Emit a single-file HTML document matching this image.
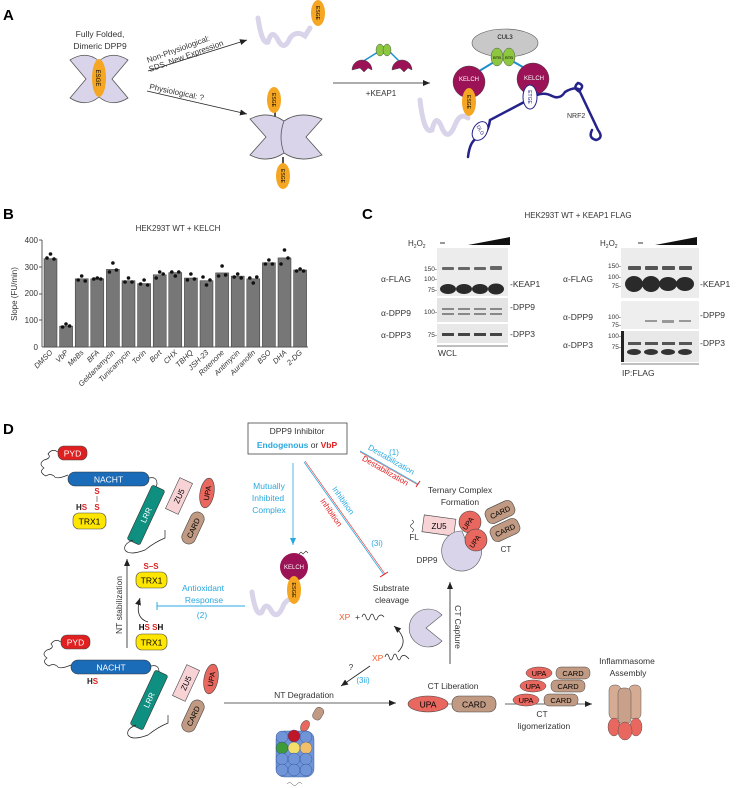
<!DOCTYPE html>
<html><head><meta charset="utf-8"><style>
html,body{margin:0;padding:0;background:#fff}
svg{display:block;font-family:"Liberation Sans",sans-serif}
</style></head><body>
<svg width="737" height="788" viewBox="0 0 737 788" xmlns="http://www.w3.org/2000/svg">
<defs>
<marker id="ar" markerWidth="8" markerHeight="8" refX="7" refY="4" orient="auto" markerUnits="userSpaceOnUse"><path d="M0,1 L7,4 L0,7 Z" fill="#222"/></marker>
<marker id="arb" markerWidth="8" markerHeight="8" refX="7" refY="4" orient="auto" markerUnits="userSpaceOnUse"><path d="M0,1 L7,4 L0,7 Z" fill="#29a8e0"/></marker>
</defs>

<!-- ===== PANEL A ===== -->
<text x="3" y="20" font-size="15" font-weight="bold">A</text>
<text x="100" y="37" font-size="8.5" text-anchor="middle" fill="#333">Fully Folded,</text>
<text x="100" y="49" font-size="8.5" text-anchor="middle" fill="#333">Dimeric DPP9</text>
<!-- X dimer -->
<g fill="#d9d4ea" stroke="#555" stroke-width="0.8">
<path d="M99,61 Q86,50 70,60 L86,79 L70,98 Q86,108 99,97 Q104,79 99,61 Z"/>
<path d="M99,61 Q112,50 128,60 L112,79 L128,98 Q112,108 99,97 Q94,79 99,61 Z"/>
</g>
<ellipse cx="99" cy="78" rx="7" ry="19" fill="#f5a623"/>
<text transform="translate(96,78) rotate(90)" font-size="6" text-anchor="middle">ESGE</text>
<!-- arrows -->
<line x1="148" y1="71" x2="247" y2="40" stroke="#222" stroke-width="0.8" marker-end="url(#ar)"/>
<text transform="translate(148,63) rotate(-20)" font-size="8" fill="#333">Non-Physiological:</text>
<text transform="translate(150,72) rotate(-20)" font-size="8" fill="#333">SDS, New Expression</text>
<line x1="147" y1="91" x2="247" y2="114" stroke="#222" stroke-width="0.8" marker-end="url(#ar)"/>
<text transform="translate(149,89) rotate(12)" font-size="8" fill="#333">Physiological: ?</text>
<!-- squiggle top -->
<path d="M258,18 Q262,45 268,42 Q272,28 278,40 Q284,52 290,38 Q296,30 305,36 L310,28" fill="none" stroke="#d9d4ea" stroke-width="5" stroke-linecap="round"/>
<ellipse cx="318" cy="13" rx="7" ry="13" fill="#f5a623"/>
<text transform="translate(316,13) rotate(90)" font-size="5" text-anchor="middle">ESGE</text>
<!-- lower dimer -->
<g fill="#d9d4ea" stroke="#555" stroke-width="0.8">
<path d="M284,121 Q268,110 250,119 L266,137 L250,155 Q268,164 284,153 Q290,137 284,121 Z"/>
<path d="M284,121 Q300,110 322,119 L306,137 L322,155 Q300,164 284,153 Q278,137 284,121 Z"/>
</g>
<line x1="275" y1="117" x2="275" y2="110" stroke="#555" stroke-width="2"/>
<line x1="283" y1="157" x2="283" y2="165" stroke="#555" stroke-width="2"/>
<ellipse cx="274" cy="100" rx="7" ry="13" fill="#f5a623"/>
<text transform="translate(272,100) rotate(90)" font-size="5" text-anchor="middle">ESGE</text>
<ellipse cx="283" cy="176" rx="7" ry="13" fill="#f5a623"/>
<text transform="translate(281,176) rotate(90)" font-size="5" text-anchor="middle">ESGE</text>
<!-- small keap1 -->
<line x1="362" y1="62" x2="378" y2="52" stroke="#1f8fd0" stroke-width="1.5"/>
<line x1="390" y1="52" x2="400" y2="62" stroke="#1f8fd0" stroke-width="1.5"/>
<ellipse cx="380" cy="50" rx="4" ry="6" fill="#8dc63f" stroke="#555" stroke-width="0.5"/>
<ellipse cx="387" cy="50" rx="4" ry="6" fill="#8dc63f" stroke="#555" stroke-width="0.5"/>
<path d="M352,70 A10,10 0 1 1 372,70 L368,68 L364,72 L360,68 Z" fill="#9b1356" stroke="#444" stroke-width="0.5"/>
<path d="M392,70 A10,10 0 1 1 412,70 L408,68 L404,72 L400,68 Z" fill="#9b1356" stroke="#444" stroke-width="0.5"/>
<line x1="333" y1="83" x2="430" y2="83" stroke="#222" stroke-width="0.8" marker-end="url(#ar)"/>
<text x="381" y="96" font-size="8" text-anchor="middle" fill="#333">+KEAP1</text>
<!-- big complex -->
<ellipse cx="505" cy="43" rx="33" ry="14" fill="#c8c8c8" stroke="#555" stroke-width="0.6"/>
<text x="505" y="39" font-size="6" text-anchor="middle">CUL3</text>
<line x1="476" y1="73" x2="494" y2="62" stroke="#1f8fd0" stroke-width="2"/>
<line x1="514" y1="62" x2="528" y2="70" stroke="#1f8fd0" stroke-width="2"/>
<ellipse cx="497" cy="57" rx="6" ry="9" fill="#8dc63f" stroke="#555" stroke-width="0.5"/>
<ellipse cx="509" cy="57" rx="6" ry="9" fill="#8dc63f" stroke="#555" stroke-width="0.5"/>
<text x="497" y="59" font-size="4" text-anchor="middle">BTB</text><text x="509" y="59" font-size="4" text-anchor="middle">BTB</text>
<circle cx="469" cy="82" r="16" fill="#9b1356" stroke="#444" stroke-width="0.5"/>
<circle cx="533" cy="79" r="16" fill="#9b1356" stroke="#444" stroke-width="0.5"/>
<text x="469" y="81" font-size="6" fill="#fff" text-anchor="middle">KELCH</text>
<text x="534" y="80" font-size="6" fill="#fff" text-anchor="middle">KELCH</text>
<path d="M420,100 Q424,135 432,130 Q436,112 442,128 Q448,142 455,125 Q460,112 468,118" fill="none" stroke="#d9d4ea" stroke-width="5" stroke-linecap="round"/>
<ellipse cx="469" cy="102" rx="7" ry="14" fill="#f5a623"/>
<text transform="translate(467,102) rotate(90)" font-size="5" text-anchor="middle">ESGE</text>
<g fill="none" stroke="#25228a" stroke-width="2.5" stroke-linecap="round">
<path d="M468,157 Q470,140 478,138 Q488,135 490,120 L528,100"/>
<path d="M537,95 Q545,92 552,96 Q560,100 565,92 Q575,86 580,90"/>
<path d="M580,90 Q585,85 578,83 Q572,88 580,92 L598,130 Q604,138 596,140 Q588,138 592,130"/>
</g>
<ellipse cx="530" cy="97" rx="7" ry="12" fill="#fff" stroke="#25228a" stroke-width="1"/>
<text transform="translate(528,97) rotate(90)" font-size="5" text-anchor="middle" fill="#25228a">ETGE</text>
<ellipse cx="480" cy="131" rx="7" ry="10" fill="#fff" stroke="#25228a" stroke-width="1" transform="rotate(30 480 131)"/>
<text transform="translate(479,131) rotate(60)" font-size="5" text-anchor="middle" fill="#25228a">DLG</text>
<text x="567" y="118" font-size="7" fill="#333">NRF2</text>

<!-- ===== PANEL B ===== -->
<text x="3" y="219" font-size="15" font-weight="bold">B</text>
<text x="178" y="231" font-size="8" text-anchor="middle" fill="#333">HEK293T WT + KELCH</text>
<text transform="translate(17,294) rotate(-90)" font-size="8" text-anchor="middle" fill="#333">Slope (FU/min)</text>
<line x1="42" y1="240" x2="42" y2="347" stroke="#333" stroke-width="0.8"/>
<line x1="42" y1="347" x2="308" y2="347" stroke="#333" stroke-width="0.8"/>
<g font-size="8" fill="#333" text-anchor="end">
<text x="38" y="243">400</text><text x="38" y="270">300</text><text x="38" y="296">200</text><text x="38" y="323">100</text><text x="38" y="350">0</text>
</g>
<g stroke="#333" stroke-width="0.8"><line x1="39" y1="240" x2="42" y2="240"/><line x1="39" y1="267" x2="42" y2="267"/><line x1="39" y1="294" x2="42" y2="294"/><line x1="39" y1="320" x2="42" y2="320"/></g>
<g fill="#777" stroke="#333" stroke-width="0.5">
<rect x="44" y="258.7" width="13" height="88.3"/>
<rect x="59.6" y="326.1" width="13" height="20.9"/>
<rect x="75.2" y="278.8" width="13" height="68.2"/>
<rect x="90.8" y="278.8" width="13" height="68.2"/>
<rect x="106.4" y="269.4" width="13" height="77.6"/>
<rect x="122" y="280.7" width="13" height="66.3"/>
<rect x="137.6" y="283.6" width="13" height="63.4"/>
<rect x="153.2" y="274.8" width="13" height="72.2"/>
<rect x="168.8" y="272.6" width="13" height="74.4"/>
<rect x="184.4" y="278" width="13" height="69"/>
<rect x="200" y="280.7" width="13" height="66.3"/>
<rect x="215.6" y="272.9" width="13" height="74.1"/>
<rect x="231.2" y="276.1" width="13" height="70.9"/>
<rect x="246.8" y="278.8" width="13" height="68.2"/>
<rect x="262.4" y="262.7" width="13" height="84.3"/>
<rect x="278" y="257.9" width="13" height="89.1"/>
<rect x="293.6" y="270" width="13" height="77"/>
</g>
<g fill="#111">
<circle cx="47" cy="258" r="1.8"/><circle cx="50.5" cy="254" r="1.8"/><circle cx="54" cy="259" r="1.8"/>
<circle cx="62.6" cy="327" r="1.8"/><circle cx="66" cy="324" r="1.8"/><circle cx="69.6" cy="326" r="1.8"/>
<circle cx="78.2" cy="280" r="1.8"/><circle cx="81.7" cy="276" r="1.8"/><circle cx="85.2" cy="281" r="1.8"/>
<circle cx="93.8" cy="279" r="1.8"/><circle cx="97.3" cy="278" r="1.8"/><circle cx="100.8" cy="279" r="1.8"/>
<circle cx="109.4" cy="272" r="1.8"/><circle cx="112.9" cy="263" r="1.8"/><circle cx="116.4" cy="270" r="1.8"/>
<circle cx="125" cy="282" r="1.8"/><circle cx="128.5" cy="278" r="1.8"/><circle cx="132" cy="282" r="1.8"/>
<circle cx="140.6" cy="284" r="1.8"/><circle cx="144.1" cy="280" r="1.8"/><circle cx="147.6" cy="285" r="1.8"/>
<circle cx="156.2" cy="278" r="1.8"/><circle cx="159.7" cy="272" r="1.8"/><circle cx="163.2" cy="274" r="1.8"/>
<circle cx="171.8" cy="272" r="1.8"/><circle cx="175.3" cy="276" r="1.8"/><circle cx="178.8" cy="272" r="1.8"/>
<circle cx="187.4" cy="280" r="1.8"/><circle cx="190.9" cy="274" r="1.8"/><circle cx="194.4" cy="279" r="1.8"/>
<circle cx="203" cy="277" r="1.8"/><circle cx="206.5" cy="285" r="1.8"/><circle cx="210" cy="280" r="1.8"/>
<circle cx="218.6" cy="276" r="1.8"/><circle cx="222.1" cy="266" r="1.8"/><circle cx="225.6" cy="275" r="1.8"/>
<circle cx="234.2" cy="277" r="1.8"/><circle cx="237.7" cy="274" r="1.8"/><circle cx="241.2" cy="278" r="1.8"/>
<circle cx="249.8" cy="278" r="1.8"/><circle cx="253.3" cy="283" r="1.8"/><circle cx="256.8" cy="277" r="1.8"/>
<circle cx="265.4" cy="264" r="1.8"/><circle cx="268.9" cy="260" r="1.8"/><circle cx="272.4" cy="264" r="1.8"/>
<circle cx="281" cy="264" r="1.8"/><circle cx="284.5" cy="250" r="1.8"/><circle cx="288" cy="258" r="1.8"/>
<circle cx="296.6" cy="271" r="1.8"/><circle cx="300.1" cy="269" r="1.8"/><circle cx="303.6" cy="271" r="1.8"/>
</g>
<g font-size="7.5" font-style="italic" fill="#333" text-anchor="end">
<text transform="translate(53,353) rotate(-45)">DMSO</text>
<text transform="translate(68.6,353) rotate(-45)">VbP</text>
<text transform="translate(84.2,353) rotate(-45)">MeBs</text>
<text transform="translate(99.8,353) rotate(-45)">BFA</text>
<text transform="translate(115.4,353) rotate(-45)">Geldanamycin</text>
<text transform="translate(131,353) rotate(-45)">Tunicamycin</text>
<text transform="translate(146.6,353) rotate(-45)">Torin</text>
<text transform="translate(162.2,353) rotate(-45)">Bort</text>
<text transform="translate(177.8,353) rotate(-45)">CHX</text>
<text transform="translate(193.4,353) rotate(-45)">TBHQ</text>
<text transform="translate(209,353) rotate(-45)">JSH-23</text>
<text transform="translate(224.6,353) rotate(-45)">Rotenone</text>
<text transform="translate(240.2,353) rotate(-45)">Antimycin</text>
<text transform="translate(255.8,353) rotate(-45)">Auranofin</text>
<text transform="translate(271.4,353) rotate(-45)">BSO</text>
<text transform="translate(287,353) rotate(-45)">DHA</text>
<text transform="translate(302.6,353) rotate(-45)">2-DG</text>
</g>

<!-- ===== PANEL C ===== -->
<text x="362" y="219" font-size="15" font-weight="bold">C</text>
<text x="578" y="218" font-size="8" text-anchor="middle" fill="#333">HEK293T WT + KEAP1 FLAG</text>
<g font-size="8" fill="#333">
<text x="408" y="246">H<tspan font-size="5" dy="2">2</tspan><tspan dy="-2">O</tspan><tspan font-size="5" dy="2">2</tspan></text>
<text x="600" y="246">H<tspan font-size="5" dy="2">2</tspan><tspan dy="-2">O</tspan><tspan font-size="5" dy="2">2</tspan></text>
</g>
<line x1="440" y1="243" x2="445" y2="243" stroke="#333"/>
<polygon points="468,245 510,237 510,245" fill="#111"/>
<line x1="638" y1="243" x2="643" y2="243" stroke="#333"/>
<polygon points="655,245 697,237 697,245" fill="#111"/>
<!-- left gels -->
<rect x="437" y="248" width="71" height="48" fill="#ececec"/>
<rect x="437" y="298" width="71" height="24" fill="#e4e4e4"/>
<rect x="437" y="324" width="71" height="19" fill="#e8e8e8"/>
<g fill="#666"><rect x="442" y="267" width="12" height="3" rx="1"/><rect x="458" y="267" width="12" height="3" rx="1"/><rect x="474" y="267" width="12" height="3" rx="1"/><rect x="490" y="266" width="12" height="4" rx="1"/></g>
<g fill="#2a2a2a"><ellipse cx="448" cy="289" rx="8" ry="5"/><ellipse cx="464" cy="289" rx="8" ry="5"/><ellipse cx="480" cy="289" rx="8" ry="5"/><ellipse cx="496" cy="289" rx="8" ry="5.5"/></g>
<g fill="#888"><rect x="442" y="308" width="12" height="2"/><rect x="458" y="308" width="12" height="2"/><rect x="474" y="308" width="12" height="2"/><rect x="490" y="308" width="12" height="2"/>
<rect x="442" y="313" width="12" height="2"/><rect x="458" y="313" width="12" height="2"/><rect x="474" y="313" width="12" height="2"/><rect x="490" y="313" width="12" height="2"/></g>
<g fill="#444"><rect x="442" y="333" width="12" height="3"/><rect x="458" y="333" width="12" height="3"/><rect x="474" y="333" width="12" height="3"/><rect x="490" y="333" width="12" height="3"/></g>
<line x1="437" y1="346" x2="508" y2="346" stroke="#555" stroke-width="0.8"/>
<g font-size="6.5" fill="#333" text-anchor="end"><text x="437" y="271">150-</text><text x="437" y="281">100-</text><text x="437" y="292">75-</text><text x="437" y="314">100-</text><text x="437" y="337">75-</text></g>
<g font-size="8.5" fill="#333"><text x="381" y="282">α-FLAG</text><text x="381" y="316">α-DPP9</text><text x="381" y="338">α-DPP3</text>
<text x="510" y="287">-KEAP1</text><text x="510" y="310">-DPP9</text><text x="510" y="337">-DPP3</text><text x="438" y="356">WCL</text></g>
<!-- right gels -->
<rect x="621" y="248" width="78" height="50" fill="#ececec"/>
<rect x="621" y="301" width="78" height="28" fill="#eeeeee"/>
<rect x="621" y="331" width="78" height="31" fill="#e8e8e8"/>
<g fill="#555"><rect x="628" y="266" width="13" height="4" rx="1"/><rect x="645" y="266" width="13" height="4" rx="1"/><rect x="662" y="266" width="13" height="4" rx="1"/><rect x="679" y="266" width="13" height="4" rx="1"/></g>
<g fill="#2a2a2a"><ellipse cx="634" cy="284" rx="9" ry="8"/><ellipse cx="651" cy="284" rx="9" ry="8"/><ellipse cx="668" cy="284" rx="9" ry="7"/><ellipse cx="685" cy="284" rx="9" ry="7"/></g>
<g fill="#999"><rect x="645" y="320" width="12" height="2"/><rect x="662" y="320" width="12" height="3"/><rect x="679" y="320" width="12" height="2"/></g>
<rect x="621" y="331" width="3" height="31" fill="#222"/>
<g fill="#555"><rect x="628" y="342" width="13" height="3"/><rect x="645" y="342" width="13" height="3"/><rect x="662" y="342" width="13" height="3"/><rect x="679" y="342" width="13" height="3"/></g>
<g fill="#333"><ellipse cx="634" cy="352" rx="7" ry="3"/><ellipse cx="651" cy="352" rx="7" ry="3"/><ellipse cx="668" cy="352" rx="7" ry="3"/><ellipse cx="685" cy="352" rx="7" ry="3"/></g>
<line x1="621" y1="364" x2="699" y2="364" stroke="#555" stroke-width="0.8"/>
<g font-size="6.5" fill="#333" text-anchor="end"><text x="621" y="268">150-</text><text x="621" y="279">100-</text><text x="621" y="288">75-</text><text x="621" y="319">100-</text><text x="621" y="327">75-</text><text x="621" y="338">100-</text><text x="621" y="349">75-</text></g>
<g font-size="8.5" fill="#333"><text x="563" y="282">α-FLAG</text><text x="563" y="320">α-DPP9</text><text x="563" y="348">α-DPP3</text>
<text x="700" y="287">-KEAP1</text><text x="700" y="318">-DPP9</text><text x="700" y="346">-DPP3</text><text x="622" y="376">IP:FLAG</text></g>

<!-- ===== PANEL D ===== -->
<text x="3" y="434" font-size="15" font-weight="bold">D</text>
<rect x="248" y="423" width="99" height="31" fill="#fff" stroke="#444" stroke-width="0.8"/>
<text x="297" y="434" font-size="8.5" text-anchor="middle" fill="#333">DPP9 Inhibitor</text>
<text x="297" y="448" font-size="8.5" text-anchor="middle" font-weight="bold"><tspan fill="#29a8e0">Endogenous</tspan><tspan fill="#333" font-weight="normal"> or </tspan><tspan fill="#e02020">VbP</tspan></text>

<!-- top NLRP1 -->
<path d="M58,452 q-6,-4 -10,2 q4,4 -4,6 q-6,4 0,8 q-6,4 2,8 q4,-3 8,0 q2,4 14,-1" fill="none" stroke="#222" stroke-width="0.7"/>
<rect x="58" y="446" width="29" height="14" rx="6" fill="#e02020" stroke="#444" stroke-width="0.6"/>
<text x="72.5" y="456.5" font-size="8.5" fill="#fff" text-anchor="middle">PYD</text>
<rect x="68" y="472" width="81" height="14" rx="7" fill="#1a6bb8" stroke="#333" stroke-width="0.6"/>
<text x="108.5" y="482.5" font-size="8.5" fill="#fff" text-anchor="middle">NACHT</text>
<path d="M149,478 q8,-2 8,6 l-4,10" fill="none" stroke="#222" stroke-width="0.7"/>
<text x="97" y="494" font-size="8" font-weight="bold" fill="#e02020" text-anchor="middle">S</text>
<line x1="97" y1="496" x2="97" y2="502" stroke="#555" stroke-width="0.7"/>
<text x="97" y="510" font-size="8" font-weight="bold" fill="#e02020" text-anchor="middle">S</text>
<text x="76" y="510" font-size="8" font-weight="bold" fill="#222">H<tspan fill="#e02020">S</tspan></text>
<rect x="73" y="513" width="33" height="16" rx="6" fill="#ffe600" stroke="#444" stroke-width="0.6"/>
<text x="89.5" y="524.5" font-size="8.5" text-anchor="middle">TRX1</text>
<g transform="translate(146,515) rotate(-65)"><rect x="-30" y="-7" width="60" height="14" rx="2" fill="#0f8f80" stroke="#333" stroke-width="0.6"/><text x="0" y="3" font-size="8" fill="#fff" text-anchor="middle">LRR</text></g>
<path d="M133,540 q-10,4 -8,10 q4,6 20,0 q10,-8 20,-12 l0,-8" fill="none" stroke="#222" stroke-width="0.7"/>
<g transform="translate(179,496) rotate(-65)"><rect x="-17" y="-7" width="34" height="14" fill="#f7d3d6" stroke="#444" stroke-width="0.6"/><text x="0" y="3" font-size="8" text-anchor="middle">ZU5</text></g>
<g transform="translate(207,493) rotate(-80)"><ellipse rx="15" ry="7" fill="#e8675e" stroke="#444" stroke-width="0.6"/><text y="3" font-size="7.5" text-anchor="middle">UPA</text></g>
<g transform="translate(193,528) rotate(-65)"><rect x="-17" y="-7" width="34" height="14" rx="7" fill="#c09a82" stroke="#444" stroke-width="0.6"/><text x="0" y="3" font-size="7.5" text-anchor="middle">CARD</text></g>

<!-- mutually inhibited -->
<g font-size="8.5" fill="#29a8e0" text-anchor="middle"><text x="269" y="489">Mutually</text><text x="268" y="501">Inhibited</text><text x="269" y="513">Complex</text></g>
<line x1="293" y1="463" x2="293" y2="545" stroke="#29a8e0" stroke-width="0.8" marker-end="url(#arb)"/>
<line x1="304" y1="462" x2="384" y2="575" stroke="#29a8e0" stroke-width="0.8"/>
<line x1="305" y1="461" x2="385" y2="574" stroke="#e02020" stroke-width="0.6"/>
<line x1="380" y1="577" x2="388" y2="572" stroke="#e02020" stroke-width="1"/>
<text transform="translate(341,502) rotate(55)" font-size="8" fill="#29a8e0" text-anchor="middle">Inhibition</text>
<text transform="translate(329,514) rotate(55)" font-size="8" fill="#e02020" text-anchor="middle">Inhibition</text>
<text x="377" y="546" font-size="8" fill="#29a8e0" text-anchor="middle">(3i)</text>
<text x="394" y="455" font-size="8" fill="#29a8e0" text-anchor="middle">(1)</text>
<line x1="360" y1="451" x2="418" y2="484" stroke="#29a8e0" stroke-width="0.8"/>
<line x1="360" y1="452" x2="418" y2="485" stroke="#e02020" stroke-width="0.5"/>
<line x1="416" y1="487" x2="420" y2="481" stroke="#e02020" stroke-width="1"/>
<text transform="translate(390,462) rotate(30)" font-size="8" fill="#29a8e0" text-anchor="middle">Destabilization</text>
<text transform="translate(384,473) rotate(30)" font-size="8" fill="#e02020" text-anchor="middle">Destabilization</text>
<g font-size="8.5" fill="#333" text-anchor="middle"><text x="460" y="493">Ternary Complex</text><text x="460" y="505">Formation</text></g>
<!-- ternary complex -->
<path d="M412,520 q3,2 0,4 q-3,2 0,4 q3,2 0,4" fill="none" stroke="#222" stroke-width="0.6"/>
<rect x="423" y="517" width="32" height="17" fill="#f7d3d6" stroke="#444" stroke-width="0.6" transform="rotate(8 439 525)"/>
<text x="439" y="529" font-size="8" text-anchor="middle">ZU5</text>
<text x="414" y="540" font-size="8" fill="#333" text-anchor="middle">FL</text>
<g transform="translate(500,512) rotate(-25)"><rect x="-15" y="-8" width="30" height="16" rx="6" fill="#c09a82" stroke="#444" stroke-width="0.6"/><text y="3" font-size="7.5" text-anchor="middle">CARD</text></g>
<g transform="translate(505,530) rotate(-25)"><rect x="-15" y="-8" width="30" height="16" rx="6" fill="#c09a82" stroke="#444" stroke-width="0.6"/><text y="3" font-size="7.5" text-anchor="middle">CARD</text></g>
<path d="M462,531 a20,20 0 1 0 18,12 l-14,-2 z" fill="#d9d4ea" stroke="#555" stroke-width="0.6"/>
<circle cx="470" cy="522" r="11" fill="#e8675e" stroke="#444" stroke-width="0.6"/>
<text transform="translate(470,525) rotate(-55)" font-size="7" text-anchor="middle">UPA</text>
<circle cx="476" cy="540" r="11" fill="#e8675e" stroke="#444" stroke-width="0.6"/>
<text transform="translate(477,543) rotate(-55)" font-size="7" text-anchor="middle">UPA</text>
<text x="427" y="563" font-size="8" fill="#333" text-anchor="middle">DPP9</text>
<text x="506" y="552" font-size="8" fill="#333" text-anchor="middle">CT</text>

<!-- kelch / esge -->
<path d="M298,555 l3,-3 l2,2 l3,-3 l2,2" fill="none" stroke="#222" stroke-width="0.6"/>
<path d="M252,592 Q256,618 262,612 Q266,600 272,612 Q278,620 284,604 Q290,596 296,600" fill="none" stroke="#d9d4ea" stroke-width="5" stroke-linecap="round"/>
<circle cx="294" cy="567" r="14" fill="#9b1356"/>
<text x="294" y="569" font-size="6" fill="#fff" text-anchor="middle">KELCH</text>
<ellipse cx="294" cy="590" rx="7" ry="14" fill="#f5a623"/>
<text transform="translate(292,590) rotate(90)" font-size="5.5" text-anchor="middle">ESGE</text>
<!-- antioxidant -->
<g font-size="8.5" fill="#29a8e0" text-anchor="middle"><text x="203" y="591">Antioxidant</text><text x="204" y="603">Response</text><text x="202" y="618">(2)</text></g>
<line x1="157" y1="606" x2="245" y2="606" stroke="#29a8e0" stroke-width="1"/>
<line x1="157" y1="602" x2="157" y2="610" stroke="#29a8e0" stroke-width="1"/>
<text x="151" y="569" font-size="8" font-weight="bold" fill="#e02020" text-anchor="middle">S–S</text>
<rect x="136" y="572" width="31" height="16" rx="6" fill="#ffe600" stroke="#444" stroke-width="0.6"/>
<text x="151.5" y="583.5" font-size="8.5" text-anchor="middle">TRX1</text>
<line x1="127" y1="648" x2="127" y2="559" stroke="#222" stroke-width="0.8" marker-end="url(#ar)"/>
<text transform="translate(122,605) rotate(-90)" font-size="8.5" fill="#333" text-anchor="middle">NT stabilization</text>
<path d="M148,622 Q134,618 140,598" fill="none" stroke="#222" stroke-width="0.8" marker-end="url(#ar)"/>
<text x="151" y="630" font-size="8" font-weight="bold" text-anchor="middle">H<tspan fill="#e02020">S</tspan>  <tspan fill="#e02020">S</tspan>H</text>
<rect x="136" y="634" width="31" height="16" rx="6" fill="#ffe600" stroke="#444" stroke-width="0.6"/>
<text x="151.5" y="645.5" font-size="8.5" text-anchor="middle">TRX1</text>

<!-- bottom NLRP1 -->
<path d="M61,642 q-6,-4 -10,2 q4,4 -4,6 q-6,4 0,8 q-6,4 2,8 q4,-3 8,0 q2,4 14,-1" fill="none" stroke="#222" stroke-width="0.7"/>
<rect x="61" y="635" width="29" height="14" rx="6" fill="#e02020" stroke="#444" stroke-width="0.6"/>
<text x="75.5" y="645.5" font-size="8.5" fill="#fff" text-anchor="middle">PYD</text>
<rect x="71" y="660" width="80" height="14" rx="7" fill="#1a6bb8" stroke="#333" stroke-width="0.6"/>
<text x="111" y="670.5" font-size="8.5" fill="#fff" text-anchor="middle">NACHT</text>
<path d="M151,666 q8,-2 8,6 l-4,10" fill="none" stroke="#222" stroke-width="0.7"/>
<text x="87" y="684" font-size="8" font-weight="bold" fill="#222">H<tspan fill="#e02020">S</tspan></text>
<g transform="translate(149,700) rotate(-65)"><rect x="-30" y="-7" width="60" height="14" rx="2" fill="#0f8f80" stroke="#333" stroke-width="0.6"/><text x="0" y="3" font-size="8" fill="#fff" text-anchor="middle">LRR</text></g>
<path d="M136,725 q-10,4 -8,10 q4,6 20,0 q10,-8 20,-12 l0,-8" fill="none" stroke="#222" stroke-width="0.7"/>
<g transform="translate(186,683) rotate(-65)"><rect x="-17" y="-7" width="34" height="14" fill="#f7d3d6" stroke="#444" stroke-width="0.6"/><text x="0" y="3" font-size="8" text-anchor="middle">ZU5</text></g>
<g transform="translate(211,679) rotate(-80)"><ellipse rx="15" ry="7" fill="#e8675e" stroke="#444" stroke-width="0.6"/><text y="3" font-size="7.5" text-anchor="middle">UPA</text></g>
<g transform="translate(193,716) rotate(-65)"><rect x="-17" y="-7" width="34" height="14" rx="7" fill="#c09a82" stroke="#444" stroke-width="0.6"/><text x="0" y="3" font-size="7.5" text-anchor="middle">CARD</text></g>

<!-- NT degradation -->
<line x1="224" y1="703" x2="396" y2="703" stroke="#333" stroke-width="0.8" marker-end="url(#ar)"/>
<text x="304" y="698" font-size="8.5" fill="#333" text-anchor="middle">NT Degradation</text>
<g transform="translate(318,713) rotate(30)"><rect x="-4" y="-6" width="9" height="13" rx="4" fill="#c09a82" stroke="#555" stroke-width="0.5"/></g>
<ellipse cx="305" cy="726" rx="4" ry="6" fill="#e8675e" stroke="#555" stroke-width="0.5" transform="rotate(30 305 726)"/>
<g stroke="#2a4a8a" stroke-width="0.4">
<rect x="276" y="731" width="38" height="46" rx="8" fill="#6f95d8"/>
<circle cx="282" cy="737" r="6" fill="#6f95d8"/><circle cx="294" cy="736" r="6" fill="#c0162a"/><circle cx="306" cy="737" r="6" fill="#6f95d8"/>
<circle cx="282" cy="748" r="6" fill="#3f9a3a"/><circle cx="294" cy="748" r="6" fill="#f3e06a"/><circle cx="306" cy="748" r="6" fill="#f2c06a"/>
<circle cx="282" cy="759" r="6" fill="#6f95d8"/><circle cx="294" cy="759" r="6" fill="#6f95d8"/><circle cx="306" cy="759" r="6" fill="#6f95d8"/>
<circle cx="282" cy="770" r="6" fill="#6f95d8"/><circle cx="294" cy="770" r="6" fill="#6f95d8"/><circle cx="306" cy="770" r="6" fill="#6f95d8"/>
</g>
<path d="M287,784 q3,-3 5,0 q3,3 5,0 q3,-3 5,0" fill="none" stroke="#555" stroke-width="0.5"/>

<!-- substrate cleavage -->
<g font-size="8.5" fill="#333" text-anchor="middle"><text x="391" y="591">Substrate</text><text x="392" y="603">cleavage</text></g>
<text x="339" y="620" font-size="8.5" fill="#f06030">XP</text><text x="355" y="620" font-size="8.5" fill="#333">+</text>
<path d="M362,617 q2,-6 4,0 q2,6 4,0 q2,-6 4,0 q2,6 4,0 q3,-4 6,0" fill="none" stroke="#222" stroke-width="0.7"/>
<path d="M442,615 A19,19 0 1 0 442,641 L426,628 Z" fill="#d9d4ea" stroke="#555" stroke-width="0.6"/>
<path d="M398,652 Q410,640 394,626" fill="none" stroke="#222" stroke-width="0.8" marker-end="url(#ar)"/>
<text x="372" y="661" font-size="8.5" fill="#f06030">XP</text>
<path d="M385,657 q2,-6 4,0 q2,6 4,0 q2,-6 4,0 q2,6 4,0 q3,-4 8,2" fill="none" stroke="#222" stroke-width="0.7"/>
<line x1="370" y1="666" x2="341" y2="686" stroke="#222" stroke-width="0.8" marker-end="url(#ar)"/>
<text x="351" y="670" font-size="8" fill="#333" text-anchor="middle">?</text>
<text x="363" y="683" font-size="8" fill="#29a8e0" text-anchor="middle">(3ii)</text>
<!-- CT capture -->
<line x1="450" y1="664" x2="450" y2="582" stroke="#222" stroke-width="0.8" marker-end="url(#ar)"/>
<text transform="translate(455,627) rotate(90)" font-size="8.5" fill="#333" text-anchor="middle">CT Capture</text>
<text x="453" y="689" font-size="8.5" fill="#333" text-anchor="middle">CT Liberation</text>
<ellipse cx="428" cy="704" rx="20" ry="8" fill="#e8675e" stroke="#444" stroke-width="0.6"/>
<text x="428" y="707.5" font-size="8.5" text-anchor="middle">UPA</text>
<line x1="448" y1="704" x2="452" y2="704" stroke="#444" stroke-width="0.6"/>
<rect x="452" y="696" width="44" height="16" rx="7" fill="#c09a82" stroke="#444" stroke-width="0.6"/>
<text x="474" y="707.5" font-size="8.5" text-anchor="middle">CARD</text>
<line x1="505" y1="704" x2="592" y2="704" stroke="#333" stroke-width="0.8" marker-end="url(#ar)"/>
<text x="542" y="717" font-size="8.5" fill="#333" text-anchor="middle">CT</text>
<text x="544" y="729" font-size="8.5" fill="#333" text-anchor="middle">ligomerization</text>
<!-- oligomer stacks -->
<g font-size="7.5" text-anchor="middle">
<ellipse cx="539" cy="673" rx="13" ry="6" fill="#e8675e" stroke="#444" stroke-width="0.5"/><text x="539" y="676">UPA</text>
<rect x="556" y="667" width="34" height="12" rx="5" fill="#c09a82" stroke="#444" stroke-width="0.5"/><text x="573" y="676">CARD</text>
<ellipse cx="533" cy="686" rx="13" ry="6" fill="#e8675e" stroke="#444" stroke-width="0.5"/><text x="533" y="689">UPA</text>
<rect x="551" y="680" width="34" height="12" rx="5" fill="#c09a82" stroke="#444" stroke-width="0.5"/><text x="568" y="689">CARD</text>
<ellipse cx="526" cy="700" rx="13" ry="6" fill="#e8675e" stroke="#444" stroke-width="0.5"/><text x="526" y="703">UPA</text>
<rect x="544" y="694" width="34" height="12" rx="5" fill="#c09a82" stroke="#444" stroke-width="0.5"/><text x="561" y="703">CARD</text>
</g>
<g font-size="8.5" fill="#333" text-anchor="middle"><text x="627" y="664">Inflammasome</text><text x="628" y="676">Assembly</text></g>
<g stroke="#555" stroke-width="0.5">
<rect x="609" y="685" width="12" height="34" rx="5" fill="#d6ab94"/><rect x="629" y="685" width="12" height="34" rx="5" fill="#d6ab94"/>
<rect x="618" y="688" width="13" height="36" rx="5" fill="#c9a08a"/>
<ellipse cx="614" cy="727" rx="6" ry="9" fill="#e8675e"/><ellipse cx="636" cy="727" rx="6" ry="9" fill="#e8675e"/><ellipse cx="625" cy="731" rx="7" ry="9" fill="#e8675e"/>
</g>
</svg>
</body></html>
